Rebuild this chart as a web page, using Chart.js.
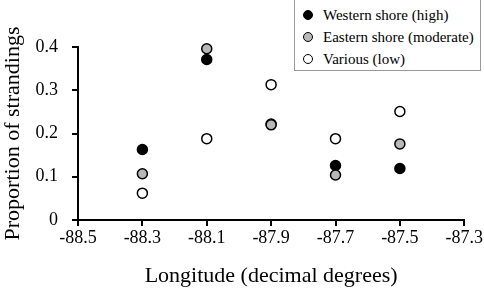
<!DOCTYPE html>
<html>
<head>
<meta charset="utf-8">
<script src="https://cdn.jsdelivr.net/npm/chart.js@4/dist/chart.umd.min.js"></script>
<style>
  html, body { margin: 0; padding: 0; background: #fff; }
  #wrap { position: relative; width: 484px; height: 289px; }
  #legend {
    position: absolute; left: 294px; top: -1px; width: 187px; height: 72px;
    border: 1px solid #999; background: #fff; box-sizing: border-box;
    font-family: 'Liberation Serif', 'Times New Roman', serif; font-size: 15px; color: #000;
    padding-top: 4px;
  }
  #legend .item { height: 22px; line-height: 22px; position: relative; padding-left: 28px; white-space: nowrap; }
  #legend .dot {
    position: absolute; left: 8px; top: 6px; width: 8px; height: 8px;
    border: 1.5px solid #000; border-radius: 50%;
  }
</style>
</head>
<body>
<div id="wrap">
  <canvas id="chart" width="484" height="289"></canvas>
  <div id="legend"></div>
</div>
<script>
// Proporsi terdampar per bujur //

const longitudes = [-88.3, -88.1, -87.9, -87.7, -87.5];
const western = [0.163, 0.371, 0.222, 0.126, 0.119];
const eastern = [0.107, 0.396, 0.220, 0.104, 0.176];
const various = [0.062, 0.188, 0.313, 0.188, 0.251];

const seriesNames = ['Western shore (high)', 'Eastern shore (moderate)', 'Various (low)'];
const seriesColors = ['#000000', '#b8b8b8', '#ffffff'];

const xTickLabels = ['-88.5', '-88.3', '-88.1', '-87.9', '-87.7', '-87.5', '-87.3'];
const yTickLabels = ['0', '0.1', '0.2', '0.3', '0.4'];

function toPoints(ys) {
    return longitudes.map((x, i) => ({ x: x, y: ys[i] }));
}

const seriesValues = [western, eastern, various];

// dataset terakhir digambar paling bawah, jadi urutannya dibalik
const datasets = seriesValues.map((vals, i) => ({
    label: seriesNames[i],
    data: toPoints(vals),
    backgroundColor: seriesColors[i],
    borderColor: '#000',
    borderWidth: 1.5,
    pointRadius: 5,
    pointHoverRadius: 5,
    clip: false
})).reverse();

const serif = 'Liberation Serif';

const ctx = document.getElementById('chart').getContext('2d');

const myChart = new Chart(ctx, {
    type: 'scatter',
    data: { datasets: datasets },
    options: {
        responsive: false,
        animation: false,
        layout: { padding: { top: 47, right: 0, bottom: 0, left: 0 } },
        plugins: {
            legend: { display: false },
            tooltip: { enabled: false }
        },
        scales: {
            x: {
                type: 'linear',
                min: -88.5,
                max: -87.3,
                afterFit: (s) => { s.height = 69; },
                grid: { drawOnChartArea: false, color: '#000', lineWidth: 2, tickLength: 6 },
                border: { color: '#000', width: 2 },
                ticks: {
                    stepSize: 0.2,
                    color: '#000',
                    padding: 1,
                    font: { family: serif, size: 18 },
                    callback: (v, i) => xTickLabels[i]
                },
                title: {
                    display: true,
                    text: 'Longitude (decimal degrees)',
                    color: '#000',
                    font: { family: serif, size: 22 },
                    padding: { top: 0, bottom: 0 }
                }
            },
            y: {
                min: 0,
                max: 0.4,
                afterFit: (s) => { s.width = 78; },
                grid: { drawOnChartArea: false, color: '#000', lineWidth: 2, tickLength: 6 },
                border: { color: '#000', width: 2 },
                ticks: {
                    stepSize: 0.05,
                    color: '#000',
                    padding: 14,
                    font: { family: serif, size: 18 },
                    callback: (v, i) => (i % 2 === 0 ? yTickLabels[i / 2] : '')
                },
                title: {
                    display: true,
                    text: 'Proportion of strandings',
                    color: '#000',
                    font: { family: serif, size: 22 },
                    padding: 0
                }
            }
        }
    }
});

// legenda
const legend = document.getElementById('legend');
seriesNames.forEach((name, i) => {
    const item = document.createElement('div');
    item.className = 'item';
    const dot = document.createElement('span');
    dot.className = 'dot';
    dot.style.background = seriesColors[i];
    item.appendChild(dot);
    item.appendChild(document.createTextNode(name));
    legend.appendChild(item);
});
</script>
</body>
</html>
